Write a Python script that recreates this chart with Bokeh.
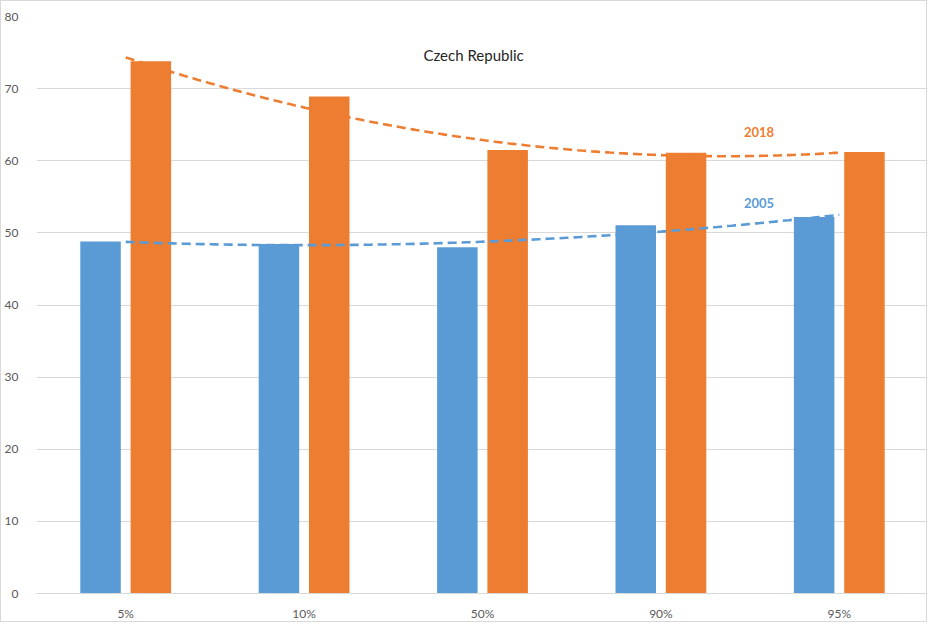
import numpy as np
from bokeh.plotting import figure
from bokeh.models import Range1d, FixedTicker, Label
from bokeh.embed import file_html
from bokeh.resources import INLINE

categories = ["5%", "10%", "50%", "90%", "95%"]
values_2005 = [48.8, 48.45, 48.0, 51.05, 52.2]
values_2018 = [73.8, 68.9, 61.5, 61.1, 61.2]
y_ticks = [0, 10, 20, 30, 40, 50, 60, 70, 80]

BLUE = "#5B9BD5"
ORANGE = "#ED7D31"
FONT = "Lato"

p = figure(width=927, height=622, output_backend="svg", toolbar_location=None,
           x_range=Range1d(0, len(categories)), y_range=Range1d(0, 80),
           min_border_left=29, min_border_right=0, min_border_top=15, min_border_bottom=23,
           background_fill_color="white", border_fill_color="white",
           outline_line_color=None,
           styles={"border": "1px solid #d9d9d9", "box-sizing": "border-box"})

xc = np.arange(len(categories)) + 0.5
off = 0.141
bw = 0.227
p.vbar(x=xc - off, top=values_2005, width=bw, fill_color=BLUE, line_color=None)
p.vbar(x=xc + off, top=values_2018, width=bw, fill_color=ORANGE, line_color=None)

xs = np.linspace(xc[0], xc[-1], 200)
for vals, col in ((values_2018, ORANGE), (values_2005, BLUE)):
    coef = np.polyfit(np.arange(1, len(vals) + 1), vals, 2)
    ys = np.polyval(coef, xs + 0.5)
    p.line(xs, ys, line_color=col, line_width=2.6, line_dash="9 5")

p.add_layout(Label(x=4.05, y=64.0, text="2018", text_color=ORANGE, text_font=FONT,
                   text_font_size="13px", text_font_style="bold",
                   text_align="center", text_baseline="middle"))
p.add_layout(Label(x=4.05, y=54.2, text="2005", text_color=BLUE, text_font=FONT,
                   text_font_size="13px", text_font_style="bold",
                   text_align="center", text_baseline="middle"))
p.add_layout(Label(x=2.45, y=74.7, text="Czech Republic", text_color="#262626", text_font=FONT,
                   text_font_size="15px", text_align="center", text_baseline="middle"))

p.xaxis.ticker = FixedTicker(ticks=list(xc))
p.xaxis.major_label_overrides = {float(x): c for x, c in zip(xc, categories)}
p.yaxis.ticker = FixedTicker(ticks=y_ticks)

for ax in (p.xaxis, p.yaxis):
    ax.major_tick_line_color = None
    ax.minor_tick_line_color = None
    ax.major_label_text_color = "#595959"
    ax.major_label_text_font = FONT
    ax.major_label_text_font_size = "12px"
p.xaxis.axis_line_color = "#d9d9d9"
p.xaxis.axis_line_width = 1
p.yaxis.axis_line_color = None
p.xaxis.major_label_standoff = 6
p.yaxis.major_label_standoff = 12

p.xgrid.grid_line_color = None
p.ygrid.grid_line_color = "#d9d9d9"
p.ygrid.grid_line_width = 1

open("out.html", "w").write(file_html(p, INLINE))
